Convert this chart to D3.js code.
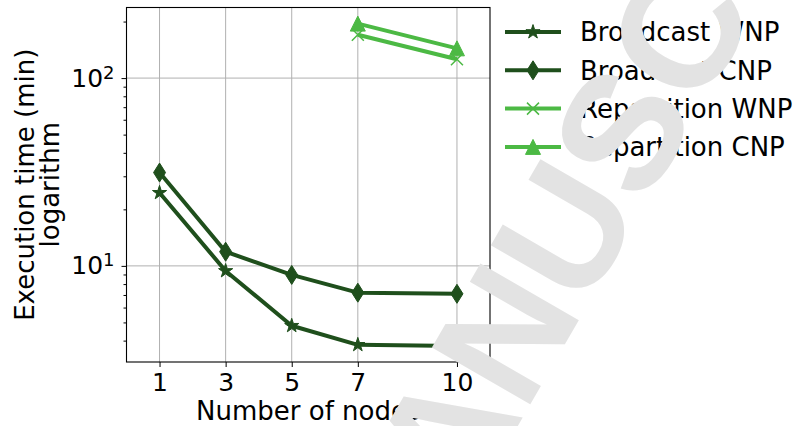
<!DOCTYPE html>
<html>
<head>
<meta charset="utf-8">
<script src="https://cdn.jsdelivr.net/npm/d3@7"></script>
<style>
  body { margin: 0; background: #fff; }
  svg text { font-family: "DejaVu Sans", sans-serif; }
</style>
</head>
<body>
<svg id="chart" width="795" height="426"></svg>
<script>
// data
const nodes = [1, 3, 5, 7, 10];
const broadcastWNP = [24.5, 9.4, 4.8, 3.8, 3.75];
const broadcastCNP = [31.4, 11.9, 8.95, 7.2, 7.1];
const repartitionNodes = [7, 10];
const repartitionWNP = [170, 126];
const repartitionCNP = [195, 144];

const xTicks = [1, 3, 5, 7, 10];
const yTicks = [10, 100];
const yMinor = [4, 5, 6, 7, 8, 9, 20, 30, 40, 50, 60, 70, 80, 90, 200];

const dark = "#1f4f1c";
const light = "#4cb944";

const series = [
    {name: "Broadcast WNP", xs: nodes, ys: broadcastWNP, color: dark, marker: "star"},
    {name: "Broadcast CNP", xs: nodes, ys: broadcastCNP, color: dark, marker: "diamond"},
    {name: "Repartition WNP", xs: repartitionNodes, ys: repartitionWNP, color: light, marker: "x"},
    {name: "Repartition CNP", xs: repartitionNodes, ys: repartitionCNP, color: light, marker: "triangle"}
];

const margin = {top: 7.5, left: 126.5, right: 305, bottom: 64};
const width = 795 - margin.left - margin.right;
const height = 426 - margin.top - margin.bottom;

const svg = d3.select("#chart");
const g = svg.append("g").attr("transform", `translate(${margin.left},${margin.top})`);

// X scale (xlim 0..11)
const x = d3.scaleLinear().domain([0, 11]).range([0, width]);

// Y scale, log with 5% margins like matplotlib
const allY = series.flatMap(s => s.ys);
const lo = Math.log10(d3.min(allY)), hi = Math.log10(d3.max(allY));
const pad = (hi - lo) * 0.05;
const y = d3.scaleLog().domain([10 ** (lo - pad), 10 ** (hi + pad)]).range([height, 0]);

// grid
g.append("g").selectAll("line").data(xTicks).join("line")
    .attr("x1", d => x(d)).attr("x2", d => x(d))
    .attr("y1", 0).attr("y2", height)
    .attr("stroke", "#b0b0b0").attr("stroke-width", 1);
g.append("g").selectAll("line").data(yTicks).join("line")
    .attr("x1", 0).attr("x2", width)
    .attr("y1", d => y(d)).attr("y2", d => y(d))
    .attr("stroke", "#b0b0b0").attr("stroke-width", 1);

// X axis
const xAxis = g.append("g")
    .attr("transform", `translate(0,${height})`)
    .call(d3.axisBottom(x).tickValues(xTicks).tickSize(5).tickPadding(6).tickFormat(d3.format("d")));
xAxis.select(".domain").remove();
xAxis.selectAll("text").attr("font-size", 25).attr("fill", "#000");

// Y axis minor ticks
const yMinorAxis = g.append("g")
    .call(d3.axisLeft(y).tickValues(yMinor).tickSize(3).tickFormat(""));
yMinorAxis.select(".domain").remove();

// Y axis major ticks
const yAxis = g.append("g")
    .call(d3.axisLeft(y).tickValues(yTicks).tickSize(5).tickPadding(7));
yAxis.select(".domain").remove();
yAxis.selectAll("text")
    .attr("font-size", 25).attr("fill", "#000")
    .each(function(d) {
        const t = d3.select(this).text("");
        t.append("tspan").text("10");
        t.append("tspan").attr("font-size", 18).attr("dy", -8).text(Math.round(Math.log10(d)));
    });

// frame
g.append("rect")
    .attr("width", width).attr("height", height)
    .attr("fill", "none").attr("stroke", "#000").attr("stroke-width", 1.1);

// marker shapes
function markerPath(type) {
    if (type === "star") return d3.symbol(d3.symbolStar, 62)();
    if (type === "diamond") return "M0,-9.5L6,0L0,9.5L-6,0Z";
    if (type === "triangle") return "M0,-7.5L7.5,7.5L-7.5,7.5Z";
    return "M-6,-6L6,6M-6,6L6,-6";
}
function drawMarker(sel, s) {
    sel.append("path")
        .attr("d", markerPath(s.marker))
        .attr("fill", s.marker === "x" ? "none" : s.color)
        .attr("stroke", s.color)
        .attr("stroke-width", s.marker === "x" ? 1.5 : 1);
}

const line = d3.line().x(d => x(d[0])).y(d => y(d[1]));

series.forEach(s => {
    const pts = s.xs.map((v, i) => [v, s.ys[i]]);
    g.append("path")
        .datum(pts)
        .attr("fill", "none")
        .attr("stroke", s.color)
        .attr("stroke-width", 4)
        .attr("stroke-linejoin", "round")
        .attr("d", line);
    g.append("g").selectAll("g").data(pts).join("g")
        .attr("transform", d => `translate(${x(d[0])},${y(d[1])})`)
        .each(function() { drawMarker(d3.select(this), s); });
});

// axis labels
svg.append("text")
    .attr("x", margin.left + width / 2)
    .attr("y", 420)
    .attr("text-anchor", "middle")
    .attr("font-size", 26)
    .text("Number of nodes");

const yLabel = svg.append("text")
    .attr("transform", `translate(0,${margin.top + height / 2}) rotate(-90)`)
    .attr("text-anchor", "middle")
    .attr("font-size", 26);
yLabel.append("tspan").attr("x", 0).attr("y", 34).text("Execution time (min)");
yLabel.append("tspan").attr("x", 0).attr("y", 59).text("logarithm");

// legend
const legend = svg.append("g").attr("transform", "translate(505,32)");
series.forEach((s, i) => {
    const row = legend.append("g").attr("transform", `translate(0,${i * 38.3})`);
    row.append("line")
        .attr("x1", 0).attr("x2", 56)
        .attr("stroke", s.color).attr("stroke-width", 4);
    const m = row.append("g").attr("transform", "translate(28,0)");
    drawMarker(m, s);
    row.append("text")
        .attr("x", 75).attr("y", 0).attr("dy", "0.36em")
        .attr("font-size", 26)
        .text(s.name);
});

// watermark of the source page
svg.append("text")
    .attr("transform", "translate(620,130) rotate(-60)")
    .attr("text-anchor", "middle")
    .attr("dy", "0.36em")
    .style("font-family", "'Liberation Sans', Arial, sans-serif")
    .attr("font-weight", "bold")
    .attr("font-size", 165)
    .attr("fill", "#e3e3e3")
    .text("MANUSCRIPT");
</script>
</body>
</html>
